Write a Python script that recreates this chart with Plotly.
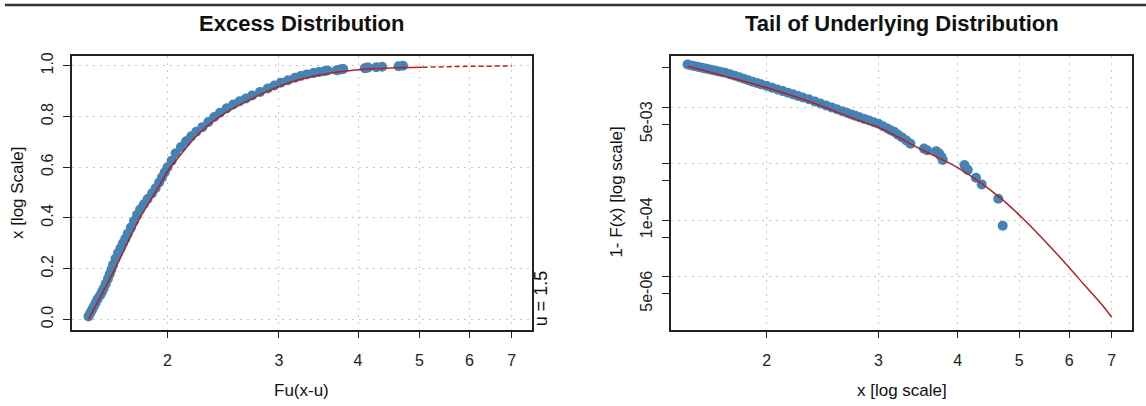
import plotly.graph_objects as go

# ---------------- data ----------------
# Left panel: empirical excess distribution (blue points)
left_pts_x = [1.50, 1.51, 1.52, 1.53, 1.54, 1.55, 1.565, 1.575, 1.585, 1.597, 1.61, 1.62, 1.63, 1.64,
              1.655, 1.67, 1.685, 1.70, 1.715, 1.73, 1.75, 1.77, 1.79, 1.81, 1.835, 1.86, 1.89, 1.915,
              1.94, 1.96, 1.98, 2.00, 2.03, 2.06, 2.10, 2.14, 2.18, 2.22, 2.27, 2.32, 2.37, 2.42, 2.48,
              2.54, 2.60, 2.66, 2.72, 2.80, 2.88, 2.95, 3.02, 3.10, 3.18, 3.25, 3.32, 3.40, 3.47,
              3.54, 3.58, 3.70, 3.74, 3.77, 3.79, 4.10, 4.13, 4.15, 4.275, 4.365, 4.636, 4.711]
left_pts_F = [0.012, 0.025, 0.038, 0.052, 0.066, 0.080, 0.095, 0.108, 0.122, 0.140, 0.160, 0.178, 0.196, 0.215,
              0.240, 0.262, 0.280, 0.300, 0.318, 0.338, 0.362, 0.388, 0.412, 0.433, 0.454, 0.475, 0.497, 0.517,
              0.540, 0.560, 0.580, 0.600, 0.626, 0.655, 0.680, 0.702, 0.722, 0.740, 0.758, 0.778, 0.798, 0.815, 0.832,
              0.847, 0.860, 0.871, 0.883, 0.897, 0.910, 0.922, 0.933, 0.943, 0.953, 0.960, 0.966, 0.971, 0.975,
              0.978, 0.981, 0.982, 0.984, 0.986, 0.987, 0.990, 0.992, 0.993, 0.994, 0.996, 0.998, 1.000]

# Left panel: fitted GPD excess distribution (red line, solid then dashed)
left_fit_x = [1.50, 1.656, 1.813, 1.95, 2.00, 2.122, 2.25, 2.454, 2.77, 3.014, 3.203, 3.43, 3.72, 4.00, 4.50, 5.06]
left_fit_F = [0.000, 0.205, 0.405, 0.535, 0.583, 0.665, 0.737, 0.810, 0.880, 0.920, 0.943, 0.961, 0.975, 0.984, 0.991, 0.994]
left_ext_x = [5.06, 5.65, 6.00, 7.00]
left_ext_F = [0.994, 0.997, 0.998, 0.999]

# Right panel: empirical tail of underlying distribution (blue points)
right_pts_x = [1.50, 1.52, 1.54, 1.56, 1.58, 1.60, 1.62, 1.64, 1.66, 1.68, 1.70, 1.72, 1.75, 1.78, 1.81,
               1.84, 1.87, 1.90, 1.93, 1.96, 2.00, 2.04, 2.08, 2.12, 2.16, 2.20, 2.24, 2.28, 2.33, 2.38,
               2.43, 2.48, 2.53, 2.58, 2.63, 2.68, 2.72, 2.76, 2.80, 2.85, 2.90, 2.95, 3.00, 3.05, 3.10,
               3.14, 3.18, 3.22, 3.27, 3.32, 3.37,
               3.54, 3.58, 3.70, 3.74, 3.77, 3.79, 4.10, 4.13, 4.15, 4.275, 4.365, 4.636, 4.711]
right_pts_tail = [0.0570, 0.0548, 0.0531, 0.0514, 0.0499, 0.0484, 0.0470, 0.0456, 0.0443, 0.0430, 0.0418, 0.0407,
                  0.0382, 0.0360, 0.0339, 0.0319, 0.0301, 0.0284, 0.0269, 0.0254, 0.0237, 0.0221, 0.0206, 0.0193,
                  0.0180, 0.0169, 0.0158, 0.0149, 0.0138, 0.01268, 0.01167, 0.01076, 0.00994, 0.00920, 0.00851,
                  0.00791, 0.00745, 0.00703, 0.00665, 0.00621, 0.00581, 0.00543, 0.00510, 0.00462, 0.00420,
                  0.00389, 0.00364, 0.00327, 0.00290, 0.00258, 0.00226,
                  0.00185, 0.00173, 0.00167, 0.00151, 0.00132, 0.00116, 0.000944, 0.000824, 0.000776,
                  0.000565, 0.000430, 0.000239, 0.0000800]

# Right panel: fitted tail (red line)
right_fit_x = [1.50, 1.72, 2.00, 2.33, 2.81, 3.00, 3.50, 4.00, 4.68, 5.06, 5.65, 6.00, 6.34, 6.70, 7.00]
right_fit_tail = [0.0532, 0.0355, 0.0221, 0.01274, 0.00569, 0.00442, 0.00180, 0.000851, 0.000244,
                  0.000109, 3.03e-5, 1.44e-5, 7.08e-6, 3.55e-6, 1.91e-6]

x_ticks = [2, 3, 4, 5, 6, 7]
x_tick_labels = ["2", "3", "4", "5", "6", "7"]
left_y_ticks = [0.0, 0.2, 0.4, 0.6, 0.8, 1.0]
left_y_tick_labels = ["0.0", "0.2", "0.4", "0.6", "0.8", "1.0"]
right_y_ticks = [5e-2, 1e-2, 5e-3, 1e-3, 5e-4, 1e-4, 5e-5, 1e-5, 5e-6]
right_y_tick_labels = ["", "", "5e-03", "", "", "1e-04", "", "", "5e-06"]
right_y_grid = [1e-2, 1e-3, 1e-4, 1e-5]

threshold_label = "u = 1.5"

# ---------------- style ----------------
W, H = 1146, 406
FONT = "Liberation Sans, Arial, Helvetica, sans-serif"
BLUE = "#4682B4"
RED = "#B22222"
INK = "#222222"
GRID = "#c8c8c8"

def px_x(p):
    return p / W

def px_y(p):
    return 1 - p / H

fig = go.Figure()

mk = dict(color=BLUE, size=10, line=dict(width=0))
fig.add_trace(go.Scatter(x=left_pts_x, y=left_pts_F, mode="markers", marker=mk,
                         xaxis="x", yaxis="y", showlegend=False))
fig.add_trace(go.Scatter(x=left_fit_x, y=left_fit_F, mode="lines", line=dict(color=RED, width=1.5, shape="spline"),
                         xaxis="x", yaxis="y", showlegend=False))
fig.add_trace(go.Scatter(x=left_ext_x, y=left_ext_F, mode="lines",
                         line=dict(color=RED, width=1.5, dash="5px,3px"),
                         xaxis="x", yaxis="y", showlegend=False))
fig.add_trace(go.Scatter(x=right_pts_x, y=right_pts_tail, mode="markers", marker=mk,
                         xaxis="x2", yaxis="y2", showlegend=False))
fig.add_trace(go.Scatter(x=right_fit_x, y=right_fit_tail, mode="lines",
                         line=dict(color=RED, width=1.5, shape="spline"),
                         xaxis="x2", yaxis="y2", showlegend=False))

axis_common = dict(showline=True, mirror=True, linecolor=INK, linewidth=1.5,
                   ticks="outside", ticklen=7, tickwidth=1.3, tickcolor=INK,
                   tickfont=dict(family=FONT, size=16, color=INK),
                   zeroline=False, gridcolor=GRID, griddash="2px,5px", gridwidth=1)

x_range = [0.150, 0.877]
ydom = [px_y(329), px_y(53)]

fig.update_layout(
    width=W, height=H,
    margin=dict(l=0, r=0, t=0, b=0),
    paper_bgcolor="white", plot_bgcolor="white",
    font=dict(family=FONT, color=INK),
    xaxis=dict(axis_common, type="log", range=x_range, domain=[px_x(72), px_x(532)], anchor="y",
               tickmode="array", tickvals=x_ticks, ticktext=x_tick_labels, showgrid=True,
               ticklabelstandoff=8),
    yaxis=dict(axis_common, range=[-0.04, 1.04], domain=ydom, anchor="x",
               tickmode="array", tickvals=left_y_ticks, ticktext=left_y_tick_labels,
               tickangle=-90, showgrid=True, ticklabelstandoff=4),
    xaxis2=dict(axis_common, type="log", range=x_range, domain=[px_x(671), px_x(1132)], anchor="y2",
                tickmode="array", tickvals=x_ticks, ticktext=x_tick_labels, showgrid=True,
                ticklabelstandoff=8),
    yaxis2=dict(axis_common, type="log", range=[-5.937, -1.086], domain=ydom, anchor="x2",
                tickmode="array", tickvals=right_y_ticks, ticktext=right_y_tick_labels,
                tickangle=-90, showgrid=False, ticklabelstandoff=4,
                minor=dict(tickmode="array", tickvals=right_y_grid, ticks="", showgrid=True,
                           gridcolor=GRID, griddash="2px,5px", gridwidth=1)),
)

def ann(text, x, y, size, angle=0, bold=False):
    fig.add_annotation(text=("<b>%s</b>" % text) if bold else text,
                       x=px_x(x), y=px_y(y), xref="paper", yref="paper",
                       xanchor="center", yanchor="middle", showarrow=False, textangle=angle,
                       font=dict(family=FONT, size=size, color="#111111"))

ann("Excess Distribution", 301.5, 21, 22, bold=True)
ann("Tail of Underlying Distribution", 901.5, 21, 22, bold=True)
ann("Fu(x-u)", 301.5, 390, 17)
ann("x [log scale]", 901.5, 390, 17)
ann("x [log Scale]", 17.5, 191, 17, angle=-90)
ann("1- F(x) [log scale]", 617, 191, 17, angle=-90)
ann(threshold_label, 541, 297.5, 18, angle=-90)

fig.add_shape(type="line", xref="paper", yref="paper", x0=px_x(5), x1=1, y0=px_y(2), y1=px_y(2),
              line=dict(color="#333333", width=2.5))

fig.write_html("out.html")
